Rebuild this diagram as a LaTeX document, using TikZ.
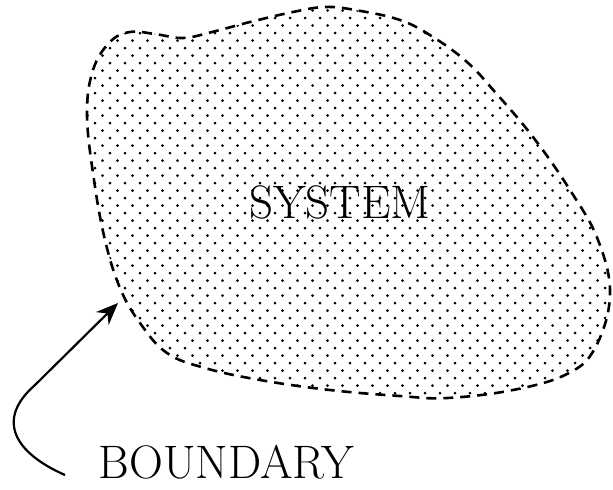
\documentclass[tikz,border=0pt]{standalone}
\usetikzlibrary{arrows.meta}

\begin{document}
\begin{tikzpicture}[
    x=0.5pt, y=-0.5pt,
    lbl/.style={
        inner sep=0pt, font=\fontsize{23.5}{27}\selectfont
    },
    rim/.style={
        draw, line width=1.3pt, dash pattern=on 5pt off 3.5pt
    },
    dot/.style={fill=black},
    arr/.style={-{Stealth[length=11pt, width=9pt]}, line width=1.1pt}
]

%% ---- Page frame (613 x 489) ----
\useasboundingbox (0,0) rectangle (613,489);

%% ---- Outline of the system ----
\def\blob{plot[smooth cycle, tension=0.65] coordinates {
    (87,115) (93,70) (110,42) (130,32) (155,34) (183,38) (212,32)
    (250,22) (293,12) (325,7) (355,10) (400,20) (433,37) (467,62)
    (495,92) (533,137) (570,190) (598,240) (610,295) (595,348)
    (567,374) (513,390) (447,398) (400,396) (330,390) (260,380)
    (205,368) (167,353) (140,323) (120,288) (105,240) (94,180)}}

% dotted fill, clipped to the outline
\begin{scope}
    \clip \blob;
    \foreach \r in {0,...,54} {
        \foreach \c in {0,...,36} {
            \pgfmathsetmacro{\dx}{80 + 15*\c + 7.5*mod(\r,2)}
            \pgfmathsetmacro{\dy}{3 + 7.5*\r}
            \fill[dot] (\dx,\dy) circle[radius=0.75pt];
        }
    }
\end{scope}

% dashed rim
\draw[rim] \blob;

%% ---- Labels ----
\node[lbl] at (340,202) (sys) {SYSTEM};
\node[lbl] at (226,462) (bnd) {BOUNDARY};

%% ---- Arrow from the label to the rim ----
\coordinate (tail) at (65,475);
\coordinate (tip)  at (118,303);
\draw[arr] (tail) .. controls (15,453) and (-5,420) .. (35,385) -- (tip);

\end{tikzpicture}
\end{document}
